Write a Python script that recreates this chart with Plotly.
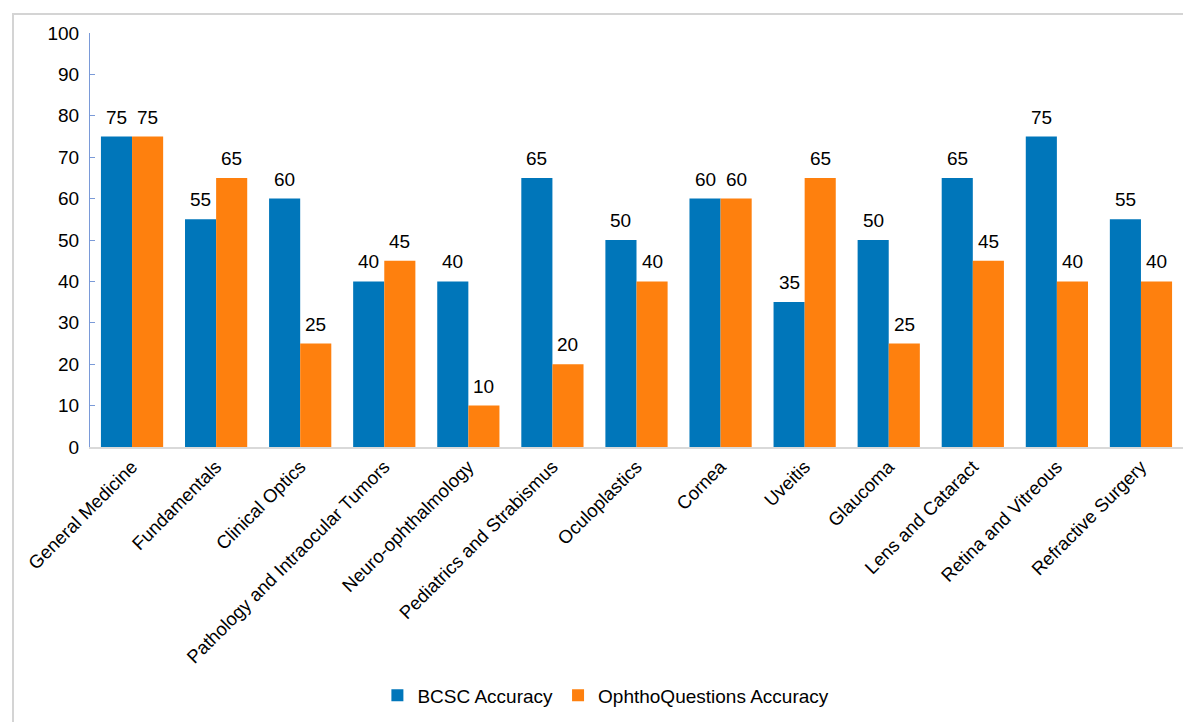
import plotly.graph_objects as go

categories = ["General Medicine", "Fundamentals", "Clinical Optics",
              "Pathology and Intraocular Tumors", "Neuro-ophthalmology",
              "Pediatrics and Strabismus", "Oculoplastics", "Cornea", "Uveitis",
              "Glaucoma", "Lens and Cataract", "Retina and Vitreous", "Refractive Surgery"]
bcsc = [75, 55, 60, 40, 40, 65, 50, 60, 35, 50, 65, 75, 55]
ophtho = [75, 65, 25, 45, 10, 20, 40, 60, 65, 25, 45, 40, 40]
y_ticks = [0, 10, 20, 30, 40, 50, 60, 70, 80, 90, 100]

FONT = "Liberation Sans, Arial, Helvetica, sans-serif"
BARGAP = 0.26

fig = go.Figure()
fig.add_trace(go.Bar(x=categories, y=bcsc, name="BCSC Accuracy",
                     marker=dict(color="#0076BA", line=dict(width=0))))
fig.add_trace(go.Bar(x=categories, y=ophtho, name="OphthoQuestions Accuracy",
                     marker=dict(color="#FE800E", line=dict(width=0))))

# value labels above each bar
half = (1 - BARGAP) / 4
for series, off in ((bcsc, -half), (ophtho, half)):
    for i, v in enumerate(series):
        fig.add_annotation(x=i + off, y=v, xref="x", yref="y", text=str(v),
                           showarrow=False, yanchor="bottom", yshift=7,
                           font=dict(size=19, color="black", family=FONT))

W, H = 1183, 714
L, T, R, B = 82, 25, 8, 275
PW, PH = W - L - R, H - T - B

fig.update_layout(
    width=W, height=H,
    barmode="group", bargap=BARGAP, bargroupgap=0,
    plot_bgcolor="white", paper_bgcolor="white",
    margin=dict(l=L, r=R, t=T, b=B, autoexpand=False),
    font=dict(family=FONT, size=19, color="black"),
    legend=dict(orientation="h", x=0.472, xanchor="center", y=-0.60, yanchor="middle",
                font=dict(size=19, family=FONT), traceorder="normal"),
    showlegend=True,
)
fig.update_xaxes(showline=True, linecolor="#d9d9d9", linewidth=1.5, automargin=False,
                 tickangle=-45, ticks="", tickfont=dict(size=18.5, family=FONT),
                 showgrid=False)
fig.update_yaxes(range=[0, 100], tickvals=y_ticks, showgrid=False, zeroline=False,
                 automargin=False,
                 showline=True, linecolor="#7a9ad8", linewidth=1.2,
                 ticks="inside", ticklen=5, tickcolor="#7a9ad8",
                 tickfont=dict(size=19, family=FONT), ticklabelstandoff=6)

# light frame around the chart area
fig.add_shape(type="rect", xref="paper", yref="paper",
              x0=(5 - L) / PW, x1=1.05, y0=-0.8, y1=(T + PH - 6) / PH,
              line=dict(color="#d4d4d4", width=2), fillcolor="rgba(0,0,0,0)", layer="below")

fig.write_html("out.html")
